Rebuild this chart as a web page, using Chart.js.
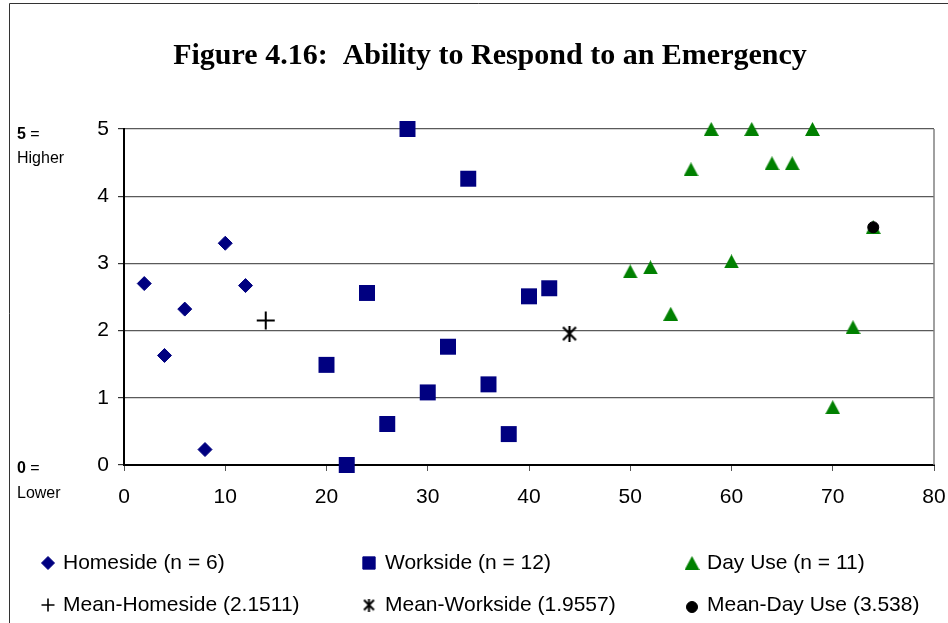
<!DOCTYPE html>
<html>
<head>
<meta charset="utf-8">
<script src="https://cdn.jsdelivr.net/npm/chart.js@4.4.1/dist/chart.umd.min.js"></script>
<style>
  html, body { margin: 0; padding: 0; background: #fff; }
  #wrap { position: relative; width: 948px; height: 623px; }
</style>
</head>
<body>
<div id="wrap"><canvas id="chart"></canvas></div>
<script>
// values
const homeX = [2, 4, 6, 8, 10, 12];
const homeY = [2.70, 1.63, 2.32, 0.23, 3.30, 2.67];
const workX = [20, 22, 24, 26, 28, 30, 32, 34, 36, 38, 40, 42];
const workY = [1.49, 0.0, 2.56, 0.61, 5.0, 1.08, 1.76, 4.26, 1.20, 0.46, 2.51, 2.63];
const dayX = [50, 52, 54, 56, 58, 60, 62, 64, 66, 68, 70, 72, 74];
const dayY = [2.88, 2.94, 2.25, 4.40, 5.0, 3.03, 5.0, 4.49, 4.49, 5.0, 0.86, 2.05, 3.54];
const meanX = [14, 44, 74];
const meanY = [2.1511, 1.9557, 3.538];
const seriesLabels = [
    "Homeside (n = 6)", "Workside (n = 12)", "Day Use (n = 11)",
    "Mean-Homeside (2.1511)", "Mean-Workside (1.9557)", "Mean-Day Use (3.538)"
];
const titleText = "Figure 4.16:  Ability to Respond to an Emergency";

const NAVY = "#000080";
const GREEN = "#008000";
const SANS = "'Liberation Sans', Arial, sans-serif";

function pts(xs, ys) {
    return xs.map((x, i) => ({ x: x, y: ys[i] }));
}

function makeTriangle(w, h, color) {
    const c = document.createElement("canvas");
    c.width = w; c.height = h;
    const g = c.getContext("2d");
    g.fillStyle = color;
    g.beginPath();
    g.moveTo(w / 2, 0);
    g.lineTo(w, h);
    g.lineTo(0, h);
    g.closePath();
    g.fill();
    return c;
}

function makeStar(s, lw) {
    const c = document.createElement("canvas");
    c.width = s; c.height = s;
    const g = c.getContext("2d");
    g.strokeStyle = "#000";
    g.lineWidth = lw;
    g.beginPath();
    g.moveTo(1.5, 1.5); g.lineTo(s - 1.5, s - 1.5);
    g.moveTo(s - 1.5, 1.5); g.lineTo(1.5, s - 1.5);
    g.moveTo(s / 2, 0); g.lineTo(s / 2, s);
    g.stroke();
    return c;
}

const triBig = makeTriangle(15, 14, GREEN);
const starBig = makeStar(16, 2.2);
const starSmall = makeStar(13, 2);

// legend drawn at fixed spots, three columns by two rows
const legendCols = [48, 369, 692];
const legendText = [63, 385, 707];
const legendRows = [563, 605];
const legendMarks = [
    { pointStyle: "rectRot", radius: 6.5, color: NAVY },
    { pointStyle: "rect", radius: 8.7, color: NAVY },
    { pointStyle: triBig, radius: 7, color: GREEN },
    { pointStyle: "cross", radius: 6.5, color: "#000", lw: 1.6 },
    { pointStyle: starSmall, radius: 6, color: "#000" },
    { pointStyle: "circle", radius: 5.5, color: "#000", dy: 2 }
];

const extrasPlugin = {
    id: "extras",
    beforeDraw(chart) {
        const ctx = chart.ctx;
        ctx.save();
        ctx.strokeStyle = "#333";
        ctx.lineWidth = 1;
        ctx.beginPath();
        ctx.moveTo(9.5, 623);
        ctx.lineTo(9.5, 3.5);
        ctx.lineTo(948, 3.5);
        ctx.stroke();
        ctx.restore();
    },
    afterDatasetsDraw(chart) {
        const ctx = chart.ctx;
        const a = chart.chartArea;
        ctx.save();
        ctx.strokeStyle = "#808080";
        ctx.lineWidth = 1.5;
        ctx.beginPath();
        ctx.moveTo(a.right, a.top);
        ctx.lineTo(a.right, a.bottom);
        ctx.stroke();
        ctx.restore();
    },
    afterDraw(chart) {
        const ctx = chart.ctx;
        ctx.save();
        // side notes on the y axis
        ctx.fillStyle = "#000";
        ctx.textBaseline = "middle";
        ctx.textAlign = "left";
        ctx.font = "bold 16px " + SANS;
        ctx.fillText("5", 17, 135);
        ctx.fillText("0", 17, 469);
        let w = ctx.measureText("5").width;
        ctx.font = "16px " + SANS;
        ctx.fillText(" =", 17 + w, 135);
        ctx.fillText(" =", 17 + w, 469);
        ctx.fillText("Higher", 17, 159);
        ctx.fillText("Lower", 17, 494);

        // legend
        ctx.font = "21px " + SANS;
        seriesLabels.forEach((label, i) => {
            const y = legendRows[Math.floor(i / 3)];
            const m = legendMarks[i];
            ctx.fillStyle = m.color;
            ctx.strokeStyle = m.color;
            ctx.lineWidth = m.lw || 1;
            Chart.helpers.drawPoint(ctx, {
                pointStyle: m.pointStyle,
                radius: m.radius,
                rotation: 0,
                borderWidth: m.lw || 1
            }, legendCols[i % 3], y + (m.dy || 0));
            ctx.fillStyle = "#000";
            ctx.fillText(label, legendText[i % 3], y);
        });
        ctx.restore();
    }
};

const ctx = document.getElementById("chart").getContext("2d");
new Chart(ctx, {
    type: "scatter",
    data: {
        datasets: [
            {
                label: seriesLabels[0],
                data: pts(homeX, homeY),
                pointStyle: "rectRot",
                pointRadius: 7,
                backgroundColor: NAVY,
                borderColor: NAVY,
                borderWidth: 1,
                order: 1,
                clip: false
            },
            {
                label: seriesLabels[1],
                data: pts(workX, workY),
                pointStyle: "rect",
                pointRadius: 11.3,
                backgroundColor: NAVY,
                borderColor: NAVY,
                borderWidth: 0,
                order: 1,
                clip: false
            },
            {
                label: seriesLabels[2],
                data: pts(dayX, dayY),
                pointStyle: triBig,
                pointRadius: 7,
                backgroundColor: GREEN,
                borderColor: GREEN,
                order: 1,
                clip: false
            },
            {
                label: seriesLabels[3],
                data: pts(meanX.slice(0, 1), meanY.slice(0, 1)),
                pointStyle: "cross",
                pointRadius: 9,
                borderColor: "#000",
                borderWidth: 2,
                order: 0,
                clip: false
            },
            {
                label: seriesLabels[4],
                data: pts(meanX.slice(1, 2), meanY.slice(1, 2)),
                pointStyle: starBig,
                pointRadius: 8,
                borderColor: "#000",
                order: 0,
                clip: false
            },
            {
                label: seriesLabels[5],
                data: pts(meanX.slice(2, 3), meanY.slice(2, 3)),
                pointStyle: "circle",
                pointRadius: 5.5,
                backgroundColor: "#000",
                borderColor: "#000",
                borderWidth: 1,
                order: 0,
                clip: false
            }
        ]
    },
    options: {
        responsive: true,
        maintainAspectRatio: false,
        animation: false,
        layout: { padding: { left: 46, right: 14, top: 0, bottom: 0 } },
        plugins: {
            legend: { display: false },
            tooltip: { enabled: false },
            title: {
                display: true,
                text: titleText,
                color: "#000",
                font: { family: "'Liberation Serif', 'Times New Roman', serif", size: 30, weight: "bold" },
                padding: { top: 38, bottom: 55 }
            }
        },
        scales: {
            x: {
                type: "linear",
                min: 0,
                max: 80,
                ticks: {
                    stepSize: 10,
                    color: "#000",
                    padding: 14,
                    font: { family: SANS, size: 21 }
                },
                grid: {
                    drawOnChartArea: false,
                    drawTicks: true,
                    tickLength: 6,
                    tickColor: "#555"
                },
                border: { color: "#000", width: 2 },
                afterFit(scale) {
                    scale.height = 158;
                    scale.paddingLeft = 0;
                    scale.paddingRight = 0;
                }
            },
            y: {
                type: "linear",
                min: 0,
                max: 5,
                ticks: {
                    stepSize: 1,
                    color: "#000",
                    padding: 9,
                    font: { family: SANS, size: 21 }
                },
                grid: {
                    color: "#5a5a5a",
                    lineWidth: 1.2,
                    tickLength: 6,
                    tickColor: "#333"
                },
                border: { color: "#000", width: 2 },
                afterFit(scale) { scale.width = 78; }
            }
        }
    },
    plugins: [extrasPlugin]
});
</script>
</body>
</html>
